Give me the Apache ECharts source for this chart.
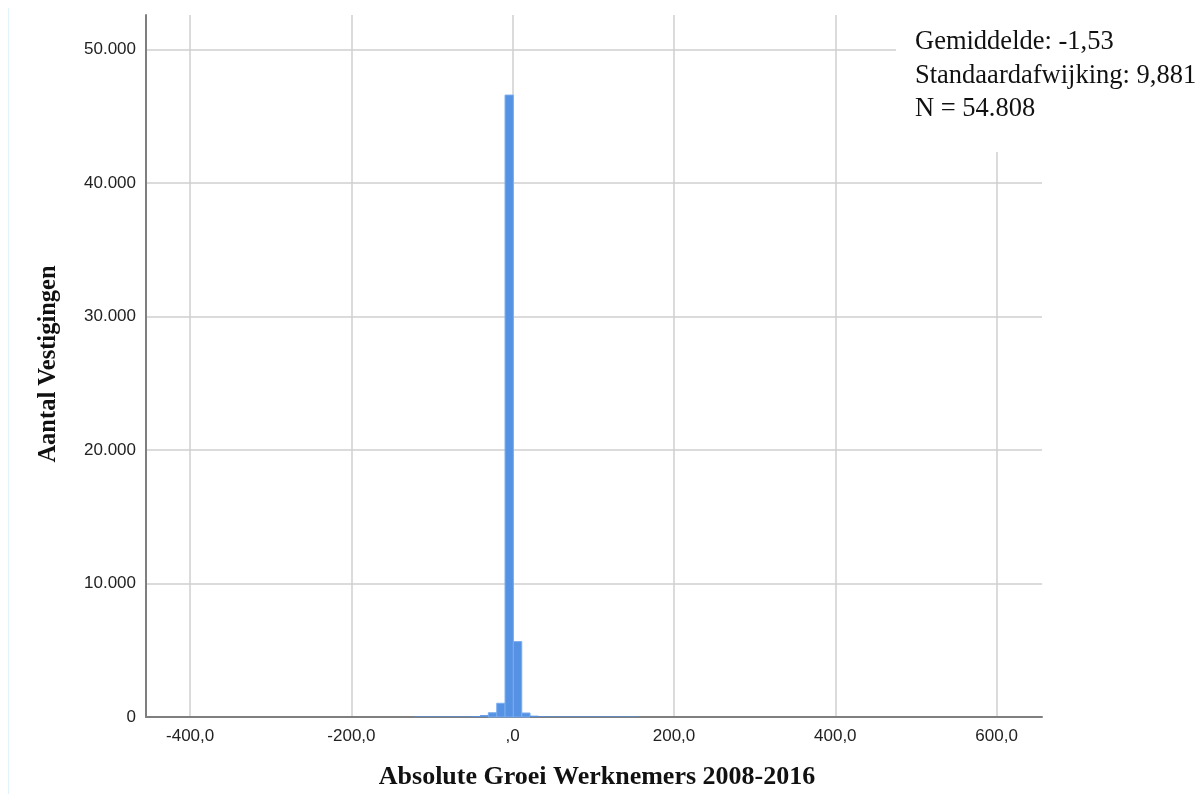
<!DOCTYPE html>
<html>
<head>
<meta charset="utf-8">
<script src="https://cdn.jsdelivr.net/npm/echarts@6/dist/echarts.min.js"></script>
<style>html,body{margin:0;padding:0;background:#fff;}#chart{width:1202px;height:794px;}</style>
</head>
<body>
<div id="chart"></div>
<script>
// Histogram bin edges (Absolute Groei Werknemers 2008-2016)
const binEdges = [-123.2, -112.9, -102.5, -92.2, -81.9, -71.5, -61.2, -50.9, -40.5, -30.2, -19.8, -9.5, 0.8, 11.2, 21.5, 31.8, 42.2, 52.5, 62.8, 73.2, 83.5, 93.8, 104.2, 114.5, 124.8, 135.2, 145.5, 155.9];
// Counts (Aantal Vestigingen) per bin
const binCounts = [8, 10, 12, 16, 20, 28, 45, 70, 140, 320, 1030, 46600, 5650, 300, 100, 60, 40, 30, 22, 16, 12, 10, 8, 6, 5, 4, 4];
const xTicks = [-400, -200, 0, 200, 400, 600];
const yTicks = [0, 10000, 20000, 30000, 40000, 50000];
const statsLines = ['Gemiddelde: -1,53', 'Standaardafwijking: 9,881', 'N = 54.808'];
const xTitle = 'Absolute Groei Werknemers 2008-2016';
const yTitle = 'Aantal Vestigingen';

const data = binCounts.map((c, i) => [binEdges[i], binEdges[i + 1], c]);

const chart = echarts.init(document.getElementById('chart'), null, {renderer: 'canvas'});
const labelFont = {fontFamily: 'Liberation Sans, Arial, sans-serif', fontSize: 17, color: '#222'};

chart.setOption({
  animation: false,
  backgroundColor: '#fff',
  grid: {left: 146, right: 160, top: 15, bottom: 77},
  xAxis: {
    type: 'value', min: -454.7, max: 656.3,
    axisLine: {show: true, onZero: false, lineStyle: {color: '#7f7f7f', width: 2}},
    axisTick: {show: false, customValues: xTicks},
    axisLabel: Object.assign({customValues: xTicks, margin: 11,
      formatter: v => v === 0 ? ',0' : v.toFixed(1).replace('.', ',')}, labelFont),
    splitLine: {show: true, lineStyle: {color: '#cfcfcf', width: 1.5}}
  },
  yAxis: {
    type: 'value', min: 0, max: 52600,
    axisLine: {show: true, onZero: false, lineStyle: {color: '#7f7f7f', width: 2}},
    axisTick: {show: false, customValues: yTicks},
    axisLabel: Object.assign({customValues: yTicks, margin: 10,
      formatter: v => v.toLocaleString('de-DE')}, labelFont),
    splitLine: {show: true, lineStyle: {color: '#cfcfcf', width: 1.5}}
  },
  series: [{
    type: 'custom',
    encode: {x: [0, 1], y: 2},
    data: data,
    z: 5,
    renderItem: function (params, api) {
      const p0 = api.coord([api.value(0), 0]);
      const p1 = api.coord([api.value(1), api.value(2)]);
      const h = Math.max(p0[1] - p1[1], 0.6);
      return {
        type: 'rect',
        shape: {x: p0[0], y: p0[1] - h, width: p1[0] - p0[0], height: h},
        style: {fill: '#5592e3', stroke: h > 3 ? '#79acee' : null, lineWidth: 1}
      };
    }
  }],
  graphic: [
    {type: 'line', z: 100, shape: {x1: 8.5, y1: 8, x2: 8.5, y2: 794}, style: {stroke: '#e3f2fb', lineWidth: 1}},
    {type: 'rect', z: 100, shape: {x: 896, y: 0, width: 306, height: 152}, style: {fill: '#fff'}},
    {type: 'text', z: 101, left: 915, top: 29, style: {text: statsLines[0], font: '26.5px "Liberation Serif", "Times New Roman", serif', fill: '#111'}},
    {type: 'text', z: 101, left: 915, top: 63, style: {text: statsLines[1], font: '26.5px "Liberation Serif", "Times New Roman", serif', fill: '#111'}},
    {type: 'text', z: 101, left: 915, top: 96, style: {text: statsLines[2], font: '26.5px "Liberation Serif", "Times New Roman", serif', fill: '#111'}},
    {type: 'text', z: 101, x: 597, y: 777, style: {text: xTitle, font: 'bold 26px "Liberation Serif", "Times New Roman", serif', fill: '#111', align: 'center', verticalAlign: 'middle'}},
    {type: 'text', z: 101, x: 48.5, y: 364, rotation: Math.PI / 2, style: {text: yTitle, font: 'bold 24.5px "Liberation Serif", "Times New Roman", serif', fill: '#111', align: 'center', verticalAlign: 'middle'}}
  ]
});
</script>
</body>
</html>
